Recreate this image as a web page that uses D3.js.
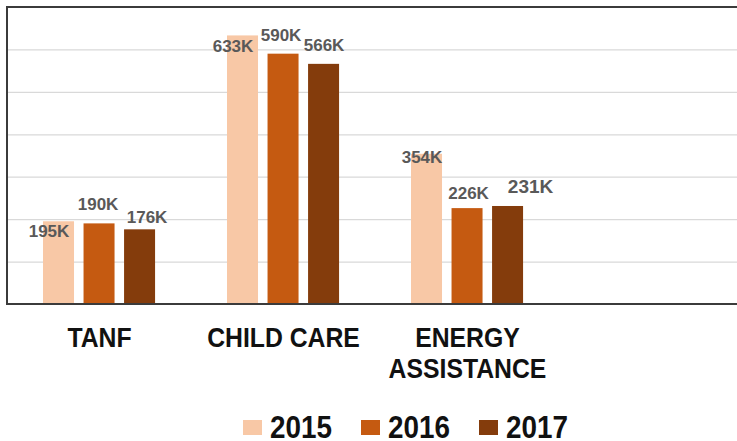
<!DOCTYPE html>
<html>
<head>
<meta charset="utf-8">
<script src="https://cdnjs.cloudflare.com/ajax/libs/d3/7.8.5/d3.min.js"></script>
<style>
  body { margin: 0; background: #fff; }
  text { font-family: "Liberation Sans", Arial, sans-serif; font-weight: bold; }
</style>
</head>
<body>
<div id="chart"></div>
<script>
var categories = ["TANF", "CHILD CARE", "ENERGY ASSISTANCE"];
var years = ["2015", "2016", "2017"];
var values2015 = [195, 633, 354];
var values2016 = [190, 590, 226];
var values2017 = [176, 566, 231];
var yTicks = [0, 100, 200, 300, 400, 500, 600, 700];

var colors = ["#f8c8a6", "#c55a11", "#843c0c"];

// hand-placed label nudges (dx, dy from bar top), like the original chart
var nudge = [
    [[-9.5, 16], [-1, -13], [7.5, -6]],
    [[-9.5, 16.5], [-2, -13], [0.5, -13]],
    [[-4.5, 9], [1.5, -9], [23, -13]]
];

var wt = 737, ht = 441;
var plotLeft = 7.5, plotTop = 7, plotBottom = 304, step = 184;

var svg = d3.select("#chart").append("svg")
    .attr("width", wt)
    .attr("height", ht);

svg.append("rect").attr("width", wt).attr("height", ht).attr("fill", "#fff");

var x = d3.scaleBand()
    .domain(categories)
    .range([plotLeft, plotLeft + step * categories.length]);

var xi = d3.scaleBand()
    .domain(years)
    .range([x.bandwidth() * 0.193, x.bandwidth() * 0.802])
    .paddingInner(0.235);

var y = d3.scaleLinear()
    .domain([0, 700])
    .range([plotBottom, plotTop]);

// gridlines
svg.append("g")
    .attr("transform", "translate(" + plotLeft + ",0)")
    .call(d3.axisLeft(y).tickValues(yTicks).tickSize(-(wt + 20)).tickFormat(""))
    .call(function (g) {
        g.select(".domain").remove();
        g.selectAll("line").attr("stroke", "#d9d9d9").attr("stroke-width", 1.2);
    });

var series = [values2015, values2016, values2017];
var rows = [];
categories.forEach(function (c, i) {
    years.forEach(function (yr, j) {
        rows.push({ cat: c, year: yr, ci: i, yi: j, value: series[j][i] });
    });
});

svg.append("g").selectAll("rect")
    .data(rows)
    .enter().append("rect")
    .attr("x", function (d) { return x(d.cat) + xi(d.year); })
    .attr("y", function (d) { return y(d.value); })
    .attr("width", xi.bandwidth())
    .attr("height", function (d) { return y(0) - y(d.value); })
    .attr("fill", function (d) { return colors[d.yi]; });

svg.append("g").selectAll("text")
    .data(rows)
    .enter().append("text")
    .attr("x", function (d) { return x(d.cat) + xi(d.year) + xi.bandwidth() / 2 + nudge[d.ci][d.yi][0]; })
    .attr("y", function (d) { return y(d.value) + nudge[d.ci][d.yi][1]; })
    .attr("text-anchor", "middle")
    .attr("fill", "#595959")
    .attr("font-size", function (d) { return d.ci == 2 && d.yi == 2 ? 19 : 17; })
    .text(function (d) { return d.value + "K"; });

// plot frame
svg.append("path")
    .attr("d", "M" + (wt + 10) + "," + plotTop + "H" + (plotLeft - 0.5) + "V" + plotBottom + "H" + (wt + 10))
    .attr("fill", "none")
    .attr("stroke", "#3b3b3b")
    .attr("stroke-width", 2);

// category labels
var catWords = [["TANF"], ["CHILD CARE"], ["ENERGY", "ASSISTANCE"]];
categories.forEach(function (c, i) {
    catWords[i].forEach(function (w, k) {
        svg.append("text")
            .attr("transform", "translate(" + (x(c) + x.bandwidth() / 2) + "," + (347 + k * 31) + ") scale(0.885,1)")
            .attr("text-anchor", "middle")
            .attr("font-size", 28)
            .attr("fill", "#111")
            .text(w);
    });
});

// legend
var legend = svg.append("g").attr("transform", "translate(243,0)");
years.forEach(function (yr, j) {
    var lg = legend.append("g").attr("transform", "translate(" + (j * 118) + ",0)");
    lg.append("rect")
        .attr("y", 420).attr("width", 19).attr("height", 15)
        .attr("fill", colors[j]);
    lg.append("text")
        .attr("transform", "translate(27,438) scale(0.87,1)")
        .attr("font-size", 32)
        .attr("fill", "#111")
        .text(yr);
});
</script>
</body>
</html>
